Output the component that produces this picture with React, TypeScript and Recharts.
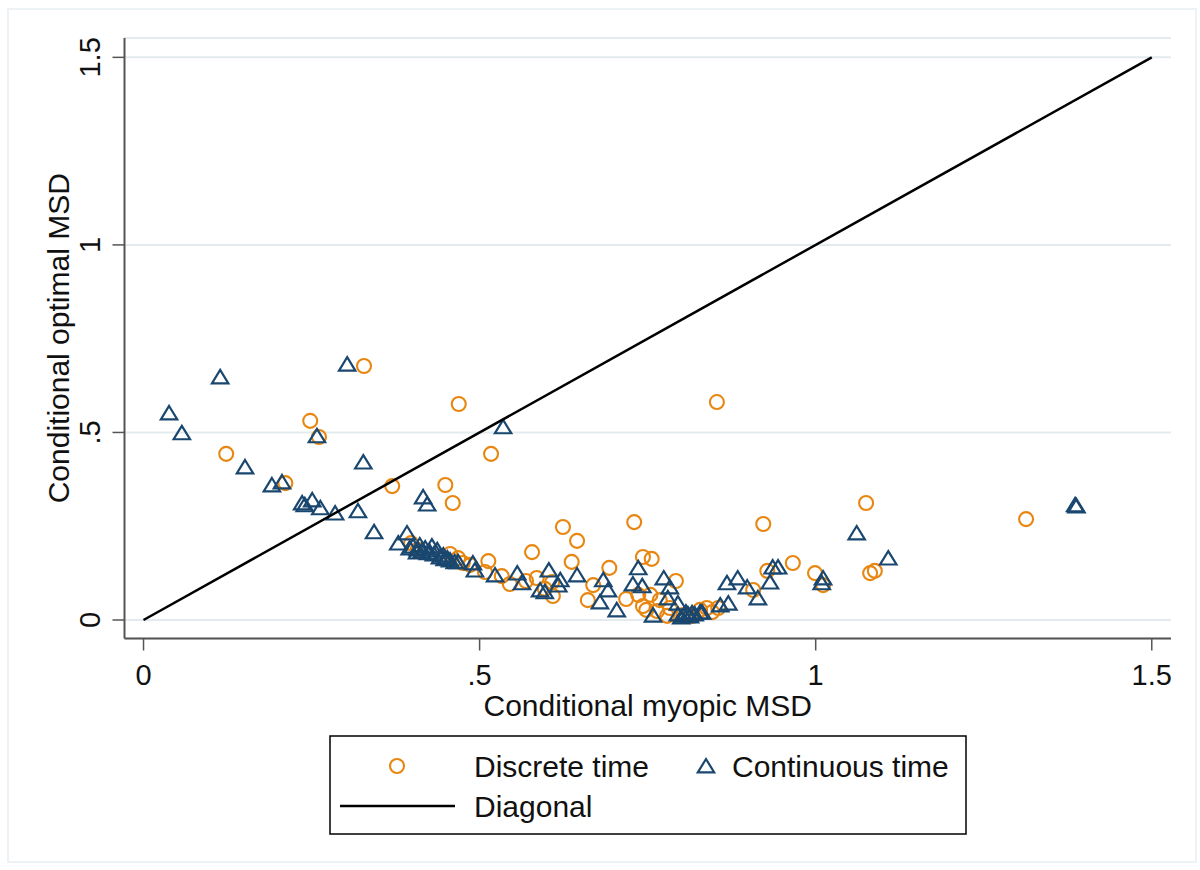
import React from "react";
import { ScatterChart, Scatter, XAxis, YAxis, CartesianGrid, Legend } from "recharts";

// conditional myopic MSD (x) vs conditional optimal MSD (y)
const discreteX = [
  0.328, 0.248, 0.261, 0.123, 0.211, 0.37, 0.398, 0.469, 0.517, 0.449, 0.46, 0.624, 0.645, 0.73,
  0.456, 0.468, 0.475, 0.513, 0.508, 0.533, 0.545, 0.569, 0.585, 0.578, 0.608, 0.609, 0.637, 0.693,
  0.669, 0.661, 0.718, 0.743, 0.756, 0.736, 0.754, 0.743, 0.768, 0.764, 0.779, 0.792, 0.783, 0.803,
  0.828, 0.838, 0.846, 0.855, 0.907, 0.928, 0.922, 0.966, 0.999, 1.011, 1.075, 1.081, 1.088, 1.313,
  0.853, 0.748, 0.817, 0.408, 0.486, 0.597,
];
const discreteY = [
  0.677, 0.531, 0.488, 0.443, 0.365, 0.357, 0.205, 0.576, 0.443, 0.36, 0.312, 0.248, 0.211, 0.261,
  0.176, 0.165, 0.152, 0.157, 0.128, 0.117, 0.096, 0.104, 0.112, 0.181, 0.101, 0.064, 0.155, 0.139,
  0.093, 0.053, 0.056, 0.168, 0.163, 0.067, 0.067, 0.037, 0.053, 0.024, 0.011, 0.104, 0.032, 0.013,
  0.027, 0.032, 0.021, 0.032, 0.08, 0.131, 0.256, 0.152, 0.125, 0.093, 0.312, 0.125, 0.131, 0.269,
  0.581, 0.027, 0.011, 0.187, 0.147, 0.083,
];

const continuousX = [
  0.303, 0.114, 0.038, 0.057, 0.258, 0.151, 0.327, 0.191, 0.206, 0.236, 0.251, 0.24, 0.263, 0.285,
  0.319, 0.343, 0.379, 0.392, 0.416, 0.422, 0.535, 0.396, 0.407, 0.419, 0.423, 0.437, 0.441, 0.452,
  0.463, 0.468, 0.49, 0.493, 0.523, 0.556, 0.563, 0.603, 0.59, 0.597, 0.62, 0.617, 0.645, 0.684,
  0.691, 0.679, 0.704, 0.736, 0.728, 0.742, 0.758, 0.774, 1.061, 1.108, 1.011, 1.009, 0.936, 0.944,
  0.932, 0.884, 0.868, 0.898, 0.914, 0.858, 0.87, 0.831, 0.783, 0.78, 0.795, 0.804, 0.813, 0.82,
  0.807, 0.8, 0.795, 0.828, 1.386, 1.388, 0.429, 0.411, 0.446, 0.401, 0.408, 0.414, 0.426, 0.432,
  0.448, 0.456, 0.81, 0.816,
];
const continuousY = [
  0.682, 0.648, 0.552, 0.499, 0.491, 0.408, 0.421, 0.36, 0.368, 0.312, 0.32, 0.307, 0.299, 0.285,
  0.291, 0.235, 0.205, 0.232, 0.328, 0.309, 0.515, 0.192, 0.181, 0.192, 0.179, 0.187, 0.168, 0.165,
  0.155, 0.155, 0.152, 0.133, 0.12, 0.125, 0.099, 0.133, 0.08, 0.075, 0.107, 0.093, 0.12, 0.107,
  0.08, 0.048, 0.027, 0.139, 0.096, 0.091, 0.013, 0.112, 0.232, 0.165, 0.112, 0.099, 0.141, 0.141,
  0.101, 0.112, 0.099, 0.088, 0.059, 0.04, 0.045, 0.021, 0.088, 0.059, 0.016, 0.013, 0.011, 0.016,
  0.021, 0.008, 0.045, 0.021, 0.307, 0.304, 0.197, 0.2, 0.173, 0.197, 0.189, 0.184, 0.181, 0.176,
  0.163, 0.16, 0.016, 0.019,
];

const diagonalX = [0, 1.5];
const diagonalY = [0, 1.5];

const xTicks = [0, 0.5, 1, 1.5];
const yTicks = [0, 0.5, 1, 1.5];

const discrete = discreteX.map((x, i) => ({ x, y: discreteY[i] }));
const continuous = continuousX.map((x, i) => ({ x, y: continuousY[i] }));
const diagonal = diagonalX.map((x, i) => ({ x, y: diagonalY[i] }));

const W = 1200;
const H = 870;
const PLOT_LEFT = 124.5;
const PLOT_TOP = 38;
const PLOT_RIGHT = 1171;
const PLOT_BOTTOM = 638.5;
const LEGEND_H = 140;

const ORANGE = "#e8860f";
const NAVY = "#1a476f";
const AXIS = "#555555";
const GRID = "#e3ebee";
const FONT = "'Liberation Sans', Arial, sans-serif";

// stata style labels: 0, .5, 1, 1.5
const fmt = (v: number) => (v > 0 && v < 1 ? String(v).replace(/^0/, "") : String(v));

const CircleMark = (props: any) => (
  <circle cx={props.cx} cy={props.cy} r={7} fill="none" stroke={ORANGE} strokeWidth={2.1} />
);

const TriangleMark = (props: any) => {
  const { cx, cy } = props;
  return (
    <path
      d={`M${cx},${cy - 7} L${cx + 8.2},${cy + 6.4} L${cx - 8.2},${cy + 6.4} Z`}
      fill="none"
      stroke={NAVY}
      strokeWidth={2.2}
    />
  );
};

const XTick = (props: any) => (
  <text
    x={props.x}
    y={PLOT_BOTTOM + 36.5}
    textAnchor="middle"
    dominantBaseline="central"
    fontSize={29}
    fontFamily={FONT}
    fill="#111"
  >
    {fmt(props.payload.value)}
  </text>
);

const YTick = (props: any) => {
  const cx = PLOT_LEFT - 34.5;
  const cy = props.y;
  return (
    <text
      x={cx}
      y={cy}
      transform={`rotate(-90 ${cx} ${cy})`}
      textAnchor="middle"
      dominantBaseline="central"
      fontSize={29}
      fontFamily={FONT}
      fill="#111"
    >
      {fmt(props.payload.value)}
    </text>
  );
};

const XTitle = () => (
  <text
    x={(PLOT_LEFT + PLOT_RIGHT) / 2}
    y={705}
    textAnchor="middle"
    dominantBaseline="central"
    fontSize={30}
    fontFamily={FONT}
    fill="#111"
  >
    Conditional myopic MSD
  </text>
);

const YTitle = () => {
  const cx = 58;
  const cy = (PLOT_TOP + PLOT_BOTTOM) / 2;
  return (
    <text
      x={cx}
      y={cy}
      transform={`rotate(-90 ${cx} ${cy})`}
      textAnchor="middle"
      dominantBaseline="central"
      fontSize={30}
      fontFamily={FONT}
      fill="#111"
    >
      Conditional optimal MSD
    </text>
  );
};

const LegendBox = () => (
  <svg width={W} height={LEGEND_H} style={{ display: "block" }}>
    <rect x={330} y={6} width={636} height={98} fill="#fff" stroke="#000" strokeWidth={1.5} />
    <CircleMark cx={397} cy={36} />
    <text x={474} y={36} dominantBaseline="central" fontSize={30} fontFamily={FONT} fill="#111">
      Discrete time
    </text>
    <TriangleMark cx={706} cy={36} />
    <text x={732} y={36} dominantBaseline="central" fontSize={30} fontFamily={FONT} fill="#111">
      Continuous time
    </text>
    <line x1={340} y1={76} x2={455} y2={76} stroke="#000" strokeWidth={2.5} />
    <text x={474} y={76} dominantBaseline="central" fontSize={30} fontFamily={FONT} fill="#111">
      Diagonal
    </text>
  </svg>
);

export default function App() {
  return (
    <div style={{ position: "absolute", left: 0, top: 0, width: W, height: H, background: "#fff" }}>
      <ScatterChart
        width={W}
        height={H}
        margin={{ top: PLOT_TOP, right: W - PLOT_RIGHT, bottom: 0, left: 0 }}
      >
        <CartesianGrid vertical={false} stroke={GRID} strokeWidth={2} />
        <XAxis
          type="number"
          dataKey="x"
          domain={[-0.0283, 1.5286]}
          ticks={xTicks}
          interval={0}
          height={H - LEGEND_H - PLOT_BOTTOM}
          tickSize={12}
          axisLine={{ stroke: AXIS, strokeWidth: 2 }}
          tickLine={{ stroke: AXIS, strokeWidth: 1.5 }}
          tick={XTick}
          label={<XTitle />}
        />
        <YAxis
          type="number"
          dataKey="y"
          domain={[-0.0493, 1.5516]}
          ticks={yTicks}
          interval={0}
          width={PLOT_LEFT}
          tickSize={12}
          axisLine={{ stroke: AXIS, strokeWidth: 2 }}
          tickLine={{ stroke: AXIS, strokeWidth: 1.5 }}
          tick={YTick}
          label={<YTitle />}
        />
        <Legend
          verticalAlign="bottom"
          content={() => <LegendBox />}
          wrapperStyle={{ left: 0, bottom: 0, width: W, height: LEGEND_H }}
        />
        <Scatter
          name="Discrete time"
          data={discrete}
          shape={CircleMark}
          isAnimationActive={false}
        />
        <Scatter
          name="Continuous time"
          data={continuous}
          shape={TriangleMark}
          isAnimationActive={false}
        />
        <Scatter
          name="Diagonal"
          data={diagonal}
          line={{ stroke: "#000", strokeWidth: 2.5 }}
          shape={() => <g />}
          isAnimationActive={false}
        />
      </ScatterChart>
      <div
        style={{
          position: "absolute",
          left: 7,
          top: 8,
          width: 1190,
          height: 855,
          border: "2px solid #edf3f5",
          boxSizing: "border-box",
          pointerEvents: "none",
        }}
      />
    </div>
  );
}
